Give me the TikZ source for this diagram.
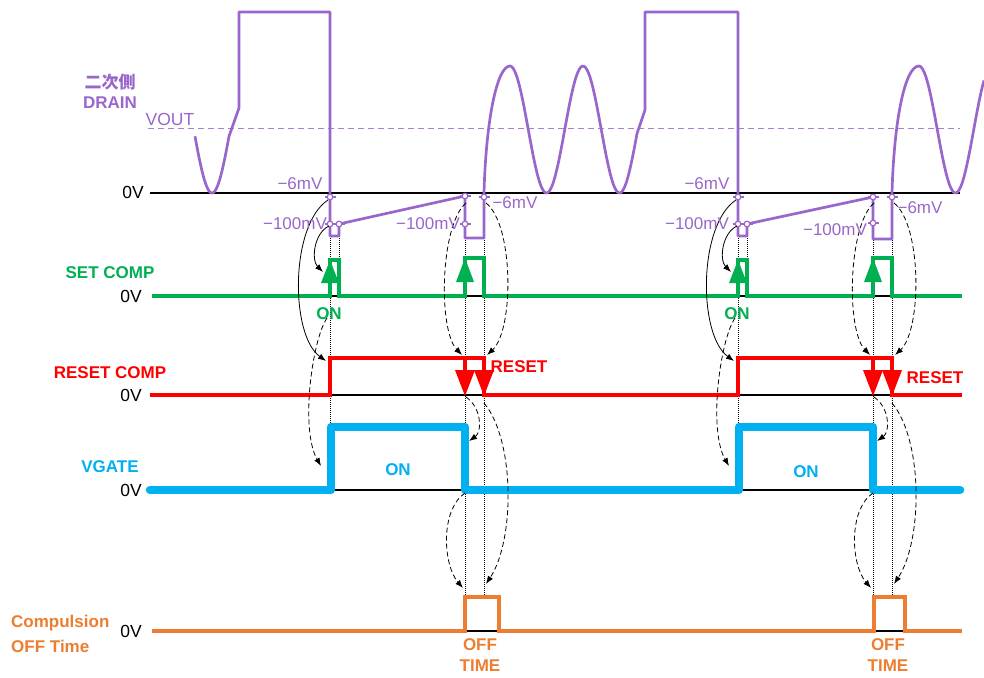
\documentclass[tikz,border=0pt]{standalone}
\usepackage{fontspec}
\setmainfont{Liberation Sans}
\newfontfamily\cjk{Noto Sans CJK JP}
\usetikzlibrary{arrows.meta}
\definecolor{purp}{RGB}{153,102,204}
\definecolor{grn}{RGB}{0,176,80}
\definecolor{rd}{RGB}{255,0,0}
\definecolor{cyn}{RGB}{0,176,240}
\definecolor{org}{RGB}{237,125,49}
\begin{document}
\begin{tikzpicture}[x=1pt,y=-1pt,
  base/.style={black, line width=1.3pt},
  lbl/.style={font=\fontsize{17}{17}\selectfont\bfseries, inner sep=0pt, anchor=center},
  zv/.style={font=\fontsize{17.5}{17.5}\selectfont, inner sep=0pt},
  mv/.style={font=\fontsize{17}{17}\selectfont, text=purp, inner sep=0pt},
  dr/.style={purp, line width=2.7pt, line join=round},
  guide/.style={black, line width=0.6pt, dash pattern=on 0.8pt off 1.2pt},
  sarr/.style={-{Latex[length=8pt,width=6pt]}, line width=0.8pt},
  darr/.style={sarr, dash pattern=on 5pt off 3pt},
  mk/.style={purp, line width=1.2pt, fill=white},
  sig/.style={line width=3.2pt, line join=miter}
]
\useasboundingbox (0,0) rectangle (984,677);

% guides per period
\foreach \o/\n in {0/a,408/b}{
\begin{scope}[xshift=\o pt]
  \draw[guide] (330,236) -- (330,427);
  \draw[guide] (339,236) -- (339,260);
  \draw[guide] (465,238) -- (465,597);
  \draw[guide] (484,238) -- (484,597);
\end{scope}
}

% baselines
\draw[base] (150,193) -- (960,193);
\draw[base] (152,296) -- (962,296);
\draw[base] (152,395) -- (962,395);
\draw[base] (150,490) -- (960,490);
\draw[base] (152,631) -- (962,631);

% VOUT
\draw[purp!85, line width=1pt, dash pattern=on 6pt off 4pt] (148,128) -- (960,128);

% DRAIN waveform
\draw[dr] plot[domain=195:229, samples=30, smooth] (\x,{129.5-63.5*cos((\x-212)/73*360+180)})
  -- (239,108) -- (239,12) -- (330,12) -- (330,236) -- (339,236) -- (339,224)
  -- (465,196) -- (465,238) -- (484,238) -- (484,193)
  .. controls (486,120) and (497,66) .. (510,66)
  -- plot[domain=510:637, samples=80, smooth] (\x,{129.5-63.5*cos((\x-510)/73*360)})
  -- (645,110) -- (645,12) -- (738,12) -- (738,236) -- (747,236) -- (747,224)
  -- (873,197) -- (873,239) -- (892,239) -- (892,193)
  .. controls (894,120) and (905,66) .. (919,66)
  -- plot[domain=919:984, samples=40, smooth] (\x,{129.5-63.5*cos((\x-919)/73*360)});

% markers
\foreach \p in {(330,197),(330,224),(339,224),(465,196),(465,224),(484,197),
                (738,197),(738,224),(747,224),(873,197),(873,223),(892,197)}{
  \draw[purp, line width=1.2pt] \p ++(-5.5,0) -- ++(11,0);
  \draw[mk] \p circle (2.8);
}

% SET COMP
\draw[grn, sig] (152,296) -- (330,296) -- (330,260) -- (339,260) -- (339,296)
  -- (465,296) -- (465,258) -- (484,258) -- (484,296)
  -- (738,296) -- (738,260) -- (747,260) -- (747,296)
  -- (873,296) -- (873,258) -- (892,258) -- (892,296) -- (962,296);

% RESET COMP
\draw[rd, sig] (150,395) -- (330,395) -- (330,358) -- (484,358) -- (484,395)
  -- (738,395) -- (738,358) -- (892,358) -- (892,395) -- (962,395);

% VGATE
\draw[cyn, line width=8.5pt, line cap=round, line join=round]
  (150,490) -- (331,490) -- (331,427) -- (465,427) -- (465,490)
  -- (739,490) -- (739,427) -- (873,427) -- (873,490) -- (960,490);

% Compulsion OFF time
\draw[org, sig] (152,631) -- (465,631) -- (465,597) -- (499,597) -- (499,631)
  -- (874,631) -- (874,597) -- (905,597) -- (905,631) -- (962,631);

\foreach \o/\n in {0/a,408/b}{
\begin{scope}[xshift=\o pt]
  % set arrows
  \fill[grn] (330,260) -- (339,283) -- (321,283) -- cycle;
  \fill[grn] (465,258) -- (474,282) -- (456,282) -- cycle;
  % reset arrows
  \draw[rd, line width=3.2pt] (465,358) -- (465,375);
  \fill[rd] (465,396) -- (475,370) -- (455,370) -- cycle;
  \fill[rd] (484,396) -- (494,370) -- (474,370) -- cycle;
  % connectors
  \coordinate (a1s\n) at (328,200); \coordinate (a1t\n) at (326,361);
  \coordinate (a2s\n) at (329,226); \coordinate (a2t\n) at (323,272);
  \coordinate (a3s\n) at (327,318); \coordinate (a3t\n) at (321,466);
  \coordinate (a4s\n) at (466,203); \coordinate (a4t\n) at (462,355);
  \coordinate (a5s\n) at (486,203); \coordinate (a5t\n) at (487,355);
  \coordinate (a6s\n) at (466,397); \coordinate (a6t\n) at (469,441);
  \coordinate (a7s\n) at (484,403); \coordinate (a7t\n) at (486,584);
  \coordinate (a8s\n) at (465,493); \coordinate (a8t\n) at (463,588);
  \draw[sarr] (a1s\n) .. controls (290,225) and (290,335) .. (a1t\n);
  \draw[sarr] (a2s\n) .. controls (314,233) and (311,260) .. (a2t\n);
  \draw[darr] (a3s\n) .. controls (312,340) and (300,430) .. (a3t\n);
  \draw[darr] (a4s\n) .. controls (440,225) and (438,330) .. (a4t\n);
  \draw[darr] (a5s\n) .. controls (514,225) and (514,330) .. (a5t\n);
  \draw[darr] (a6s\n) .. controls (482,408) and (482,432) .. (a6t\n);
  \draw[darr] (a7s\n) .. controls (515,440) and (515,540) .. (a7t\n);
  \draw[darr] (a8s\n) .. controls (440,510) and (443,565) .. (a8t\n);
\end{scope}
}

% left labels
\node[lbl, text=purp] (ljp) at (110,82) {\cjk\bfseries 二次側};
\node[lbl, text=purp] (ldrain) at (110,103) {DRAIN};
\node[zv, text=purp] (lvout) at (170,119) {VOUT};
\node[zv] (z1) at (133,192) {0V};
\node[lbl, text=grn] (lset) at (110,273) {SET COMP};
\node[zv] (z2) at (131,296) {0V};
\node[lbl, text=rd] (lreset) at (110,373) {RESET COMP};
\node[zv] (z3) at (131,395) {0V};
\node[lbl, text=cyn] (lvg) at (110,467) {VGATE};
\node[zv] (z4) at (131,490) {0V};
\node[lbl, text=org, anchor=west] (lc1) at (11,623) {Compulsion};
\node[lbl, text=org, anchor=west] (lc2) at (11,646) {OFF Time};
\node[zv] (z5) at (131,631) {0V};

% mV labels
\node[mv] (m1) at (300,184) {−6mV};
\node[mv] (m2) at (295,224) {−100mV};
\node[mv] (m3) at (428,224) {−100mV};
\node[mv] (m4) at (515,203) {−6mV};
\node[mv] (m5) at (707,184) {−6mV};
\node[mv] (m6) at (697,224) {−100mV};
\node[mv] (m7) at (835,230) {−100mV};
\node[mv] (m8) at (920,208) {−6mV};

% signal labels
\node[lbl, text=grn] (on1) at (329,314) {ON};
\node[lbl, text=grn] (on2) at (737,314) {ON};
\node[lbl, text=rd] (rs1) at (519,367) {RESET};
\node[lbl, text=rd] (rs2) at (935,378) {RESET};
\node[lbl, text=cyn] (von1) at (398,470) {ON};
\node[lbl, text=cyn] (von2) at (806,472) {ON};
\node[lbl, text=org] (off1) at (480,645) {OFF};
\node[lbl, text=org] (tm1) at (480,666) {TIME};
\node[lbl, text=org] (off2) at (888,645) {OFF};
\node[lbl, text=org] (tm2) at (888,666) {TIME};
\end{tikzpicture}
\end{document}
